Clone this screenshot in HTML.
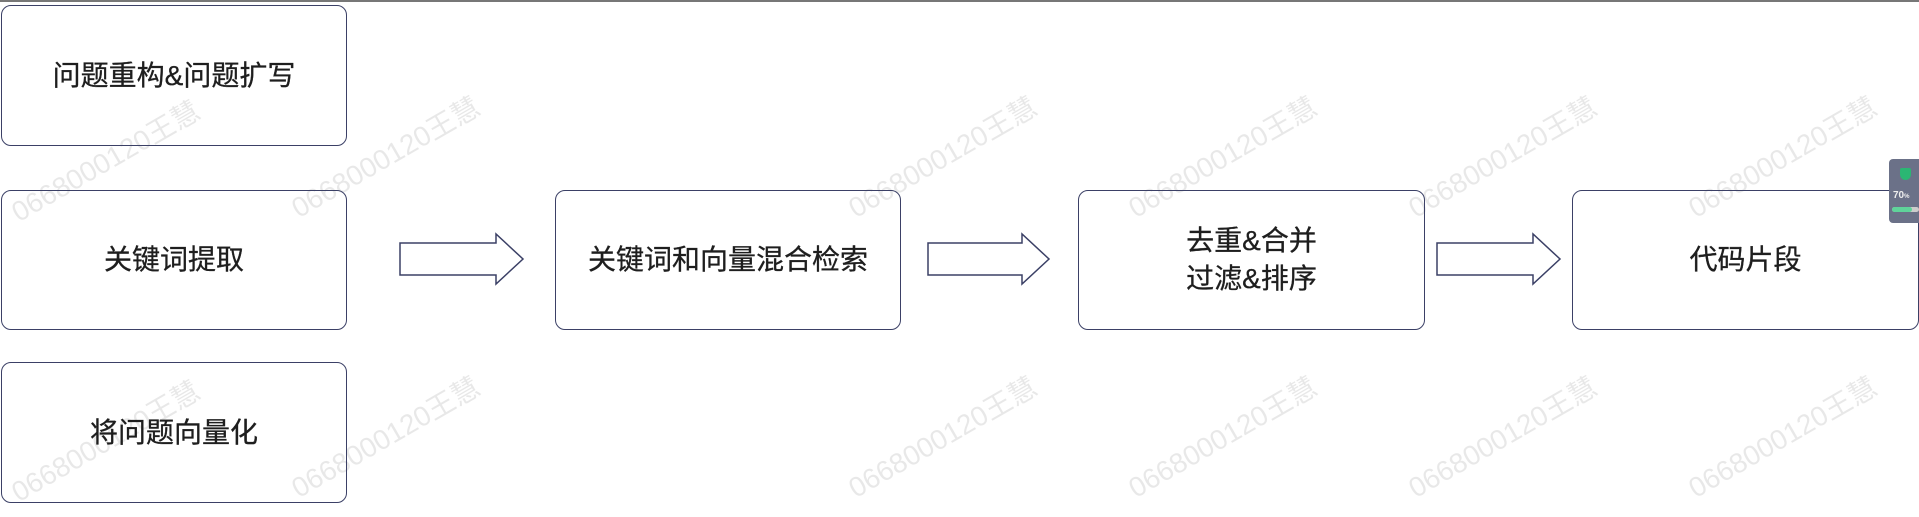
<!DOCTYPE html>
<html><head><meta charset="utf-8"><style>
body{margin:0;width:1919px;height:503px;background:#fff;position:relative;overflow:hidden;font-family:"Liberation Sans","Noto Sans CJK SC",sans-serif}
.top{position:absolute;left:0;top:0;width:1919px;height:2px;background:#777}
.box{position:absolute;border:1.5px solid #3b4066;border-radius:10px;box-sizing:border-box;display:flex;align-items:center;justify-content:center;text-align:center;font-size:28px;color:#1e1e1e;line-height:38px;background:transparent;-webkit-text-stroke:0.3px #1e1e1e}
.wm{position:absolute;font-size:28px;color:rgba(0,0,0,0.09);transform:rotate(-30deg);transform-origin:center;white-space:nowrap;width:240px;text-align:center}
svg{position:absolute;left:0;top:0}
.wd{position:absolute;left:1889px;top:159px;width:30px;height:64px;background:#6b7188;border-radius:4px 0 0 4px}
</style></head><body>
<div class="top"></div>
<div class="wm" style="left:-15px;top:140px">0668000120王慧</div>
<div class="wm" style="left:265px;top:136px">0668000120王慧</div>
<div class="wm" style="left:822px;top:136px">0668000120王慧</div>
<div class="wm" style="left:1102px;top:136px">0668000120王慧</div>
<div class="wm" style="left:1382px;top:136px">0668000120王慧</div>
<div class="wm" style="left:1662px;top:136px">0668000120王慧</div>
<div class="wm" style="left:-15px;top:420px">0668000120王慧</div>
<div class="wm" style="left:265px;top:416px">0668000120王慧</div>
<div class="wm" style="left:822px;top:416px">0668000120王慧</div>
<div class="wm" style="left:1102px;top:416px">0668000120王慧</div>
<div class="wm" style="left:1382px;top:416px">0668000120王慧</div>
<div class="wm" style="left:1662px;top:416px">0668000120王慧</div>
<div class="box" style="left:1px;top:5px;width:346px;height:141px">问题重构&amp;问题扩写</div>
<div class="box" style="left:1px;top:190px;width:346px;height:140px">关键词提取</div>
<div class="box" style="left:1px;top:362px;width:346px;height:141px">将问题向量化</div>
<div class="box" style="left:555px;top:190px;width:346px;height:140px">关键词和向量混合检索</div>
<div class="box" style="left:1078px;top:190px;width:347px;height:140px">去重&amp;合并<br>过滤&amp;排序</div>
<div class="box" style="left:1572px;top:190px;width:347px;height:140px">代码片段</div>
<svg width="1919" height="503">
<g fill="none" stroke="#3b4066" stroke-width="1.5">
<polygon points="400,243 496,243 496,234 523,259 496,284 496,275 400,275"/>
<polygon points="928,243 1022,243 1022,234 1049,259 1022,284 1022,275 928,275"/>
<polygon points="1437,243 1533,243 1533,234 1560,259 1533,284 1533,275 1437,275"/>
</g></svg>
<div class="wd">
<div style="position:absolute;left:11px;top:9px;width:11px;height:12px;background:#2bb673;border-radius:2px 2px 6px 6px"></div>
<div style="position:absolute;left:4px;top:31px;font-size:10px;color:#eee;font-weight:bold">70<span style="font-size:6px">%</span></div>
<div style="position:absolute;left:3px;top:48px;width:27px;height:5px;background:#ccc;border-radius:3px"><div style="width:20px;height:5px;background:#5fd39a;border-radius:3px"></div></div>
</div>
</body></html>
